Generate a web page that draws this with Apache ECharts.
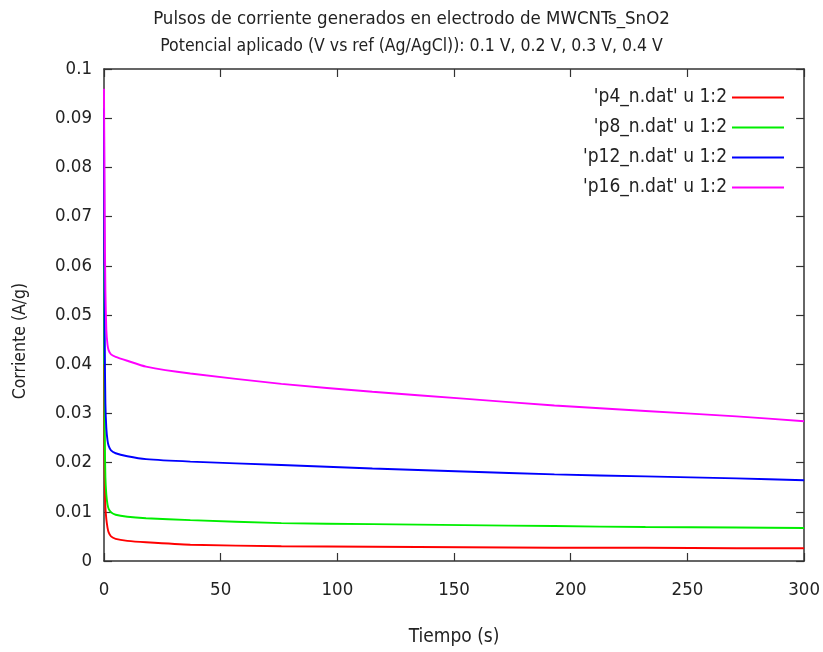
<!DOCTYPE html>
<html>
<head>
<meta charset="utf-8">
<script src="https://cdn.jsdelivr.net/npm/echarts@6/dist/echarts.min.js"></script>
<style>
html,body{margin:0;padding:0;background:#fff;}
#chart{width:823px;height:652px;}
</style>
</head>
<body>
<div id="chart"></div>
<script>
var titleText = "Pulsos de corriente generados en electrodo de MWCNTs_SnO2";
var subtitleText = "Potencial aplicado (V vs ref (Ag/AgCl)): 0.1 V, 0.2 V, 0.3 V, 0.4 V";
var xName = "Tiempo (s)";
var yName = "Corriente (A/g)";
var seriesNames = ["'p4_n.dat' u 1:2", "'p8_n.dat' u 1:2", "'p12_n.dat' u 1:2", "'p16_n.dat' u 1:2"];
var seriesColors = ["#ff0000", "#00ee00", "#0000ff", "#ff00ff"];

var time = [0, 0.3, 0.6, 1, 1.5, 2, 3, 5, 10, 18, 37, 76, 115, 154, 193, 232, 271, 300];
var p4  = [0.040, 0.018, 0.011, 0.0085, 0.0068, 0.0058, 0.0050, 0.0045, 0.0041, 0.0038, 0.0033, 0.0030, 0.0029, 0.0028, 0.0027, 0.0027, 0.0026, 0.0026];
var p8  = [0.060, 0.026, 0.017, 0.0135, 0.0115, 0.0106, 0.0099, 0.0094, 0.0090, 0.0087, 0.0083, 0.0077, 0.0075, 0.0073, 0.0071, 0.0069, 0.0068, 0.0067];
var p12 = [0.092, 0.045, 0.032, 0.027, 0.0245, 0.0234, 0.0225, 0.0219, 0.0213, 0.0207, 0.0202, 0.0195, 0.0188, 0.0182, 0.0176, 0.0172, 0.0168, 0.0164];
var p16 = [0.096, 0.070, 0.055, 0.047, 0.0440, 0.0428, 0.0420, 0.0415, 0.0407, 0.0395, 0.0381, 0.0360, 0.0344, 0.0330, 0.0316, 0.0305, 0.0294, 0.0284];
var allValues = [p4, p8, p12, p16];

var FONT = "'DejaVu Sans Condensed', 'Liberation Sans Narrow', 'DejaVu Sans', sans-serif";
var TXT = '#222';

function pairs(xs, ys){ return xs.map(function(x,i){ return [x, ys[i]]; }); }

var series = seriesNames.map(function(n, i){
  return {
    name: n, type: 'line', showSymbol: false, symbol: 'none', smooth: 0.2,
    data: pairs(time, allValues[i]),
    lineStyle: {color: seriesColors[i], width: 1.9},
    itemStyle: {color: seriesColors[i]},
    xAxisIndex: 0, yAxisIndex: 0, z: 3
  };
});

var chart = echarts.init(document.getElementById('chart'), null, {renderer: 'canvas'});
var axisLineStyle = {color: '#333', width: 1.5};
var tickStyle = {show: true, inside: true, length: 8, lineStyle: {color: '#333', width: 1.2}};
chart.setOption({
  backgroundColor: '#fff',
  animation: false,
  title: [
    {text: titleText, left: 'center', top: 5, textStyle: {fontFamily: FONT, fontSize: 18.5, fontWeight: 'normal', color: TXT}},
    {text: subtitleText, left: 'center', top: 32, textStyle: {fontFamily: FONT, fontSize: 17.5, fontWeight: 'normal', color: TXT}}
  ],
  legend: {
    orient: 'vertical', right: 34, top: 83, align: 'right',
    itemWidth: 52, itemHeight: 14, itemGap: 11,
    icon: 'path://M0,6 L52,6 L52,8 L0,8 Z',
    textStyle: {fontFamily: FONT, fontSize: 19, color: TXT, width: 170, align: 'right'},
    data: seriesNames
  },
  grid: {left: 104, right: 18, top: 69, bottom: 89, show: false},
  graphic: [
    {type: 'text', rotation: Math.PI / 2, x: 20, y: 341,
     style: {text: yName, fontFamily: FONT, fontSize: 17.5, fill: TXT, textAlign: 'center', textVerticalAlign: 'middle'}}
  ],
  xAxis: [
    {type: 'value', min: 0, max: 300, interval: 50, position: 'bottom',
     name: xName, nameLocation: 'middle', nameGap: 67,
     nameTextStyle: {fontFamily: FONT, fontSize: 19, color: TXT},
     axisLine: {show: true, onZero: false, lineStyle: axisLineStyle},
     axisTick: tickStyle,
     axisLabel: {fontFamily: FONT, fontSize: 18.5, color: TXT, margin: 20},
     splitLine: {show: false}},
    {type: 'value', min: 0, max: 300, interval: 50, position: 'top',
     axisLine: {show: true, onZero: false, lineStyle: axisLineStyle},
     axisTick: tickStyle,
     axisLabel: {show: false}, splitLine: {show: false}}
  ],
  yAxis: [
    {type: 'value', min: 0, max: 0.1, interval: 0.01, position: 'left',
     axisLine: {show: true, onZero: false, lineStyle: axisLineStyle},
     axisTick: tickStyle,
     axisLabel: {fontFamily: FONT, fontSize: 18.5, color: TXT, margin: 12,
       formatter: function(v){ return String(parseFloat(v.toFixed(4))); }},
     splitLine: {show: false}},
    {type: 'value', min: 0, max: 0.1, interval: 0.01, position: 'right',
     axisLine: {show: true, onZero: false, lineStyle: axisLineStyle},
     axisTick: tickStyle,
     axisLabel: {show: false}, splitLine: {show: false}}
  ],
  series: series
});
</script>
</body>
</html>
